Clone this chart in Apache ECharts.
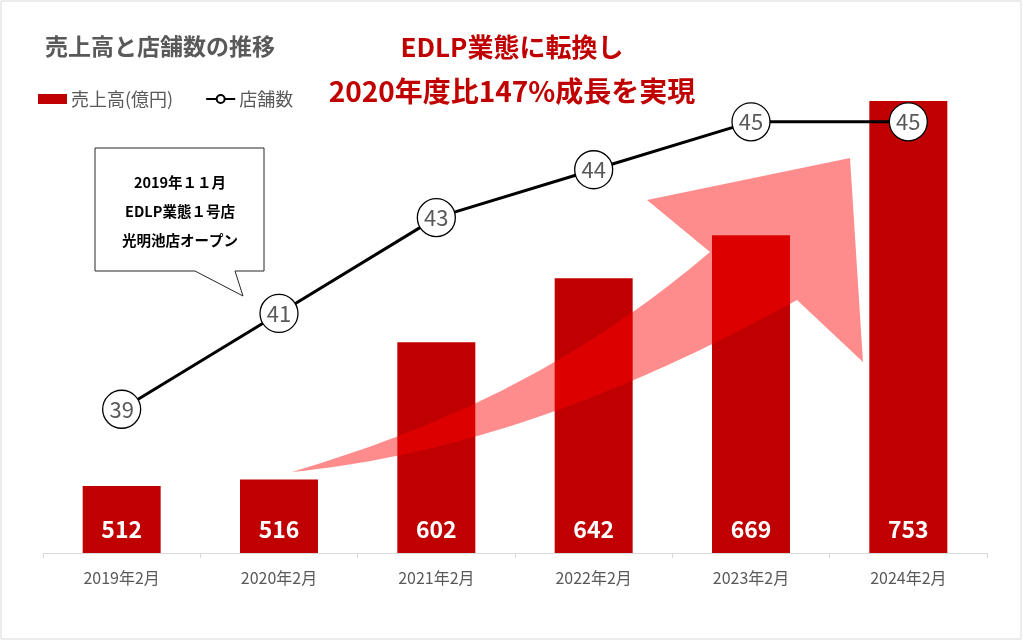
<!DOCTYPE html>
<html><head><meta charset="utf-8">
<script src="https://cdn.jsdelivr.net/npm/echarts@6/dist/echarts.min.js"></script>
<style>html,body{margin:0;padding:0;background:#fff}#c{width:1024px;height:641px}</style>
</head><body><div id="c"></div>
<script>
const categories = ['2019年2月','2020年2月','2021年2月','2022年2月','2023年2月','2024年2月'];
const sales = [512, 516, 602, 642, 669, 753];
const stores = [39, 41, 43, 44, 45, 45];
const seriesNames = ['売上高(億円)', '店舗数'];
const titleText = '売上高と店舗数の推移';
const headline1 = 'EDLP業態に転換し';
const headline2 = '2020年度比147%成長を実現';
const calloutLines = ['2019年１１月', 'EDLP業態１号店', '光明池店オープン'];

const FONT = '"Noto Sans CJK JP", "Noto Sans", sans-serif';

// decorative arrow outline (pixel space)
function cubic(p0, p1, p2, p3, n) {
  const pts = [];
  for (let i = 0; i <= n; i++) {
    const t = i / n, u = 1 - t;
    pts.push([
      u*u*u*p0[0] + 3*u*u*t*p1[0] + 3*u*t*t*p2[0] + t*t*t*p3[0],
      u*u*u*p0[1] + 3*u*u*t*p1[1] + 3*u*t*t*p2[1] + t*t*t*p3[1]
    ]);
  }
  return pts;
}
const upper = cubic([292,472],[432,430],[570,371],[710,252], 40);
const lower = cubic([797,300],[627,393.5],[462,455],[292,472], 40);
const arrowPts = upper.concat([[647,200],[850,158],[863,362]], lower);

const chart = echarts.init(document.getElementById('c'));
chart.setOption({
  animation: false,
  backgroundColor: '#fff',
  textStyle: { fontFamily: FONT },
  grid: { left: 43, right: 37, top: 26, bottom: 88 },
  legend: {
    left: 38, top: 90, padding: 0,
    itemWidth: 29, itemHeight: 10, itemGap: 32,
    textStyle: { fontSize: 18, color: '#595959', fontFamily: FONT, padding: [0, 0, 0, -1] },
    data: [
      { name: seriesNames[0], icon: 'rect' },
      { name: seriesNames[1] }
    ]
  },
  xAxis: {
    type: 'category', data: categories,
    axisLine: { lineStyle: { color: '#d9d9d9', width: 1 } },
    axisTick: { show: true, length: 5, lineStyle: { color: '#d9d9d9' } },
    axisLabel: { fontSize: 16, color: '#595959', margin: 17, fontFamily: FONT }
  },
  yAxis: [
    { type: 'value', min: 470, max: 800, show: false, splitLine: { show: false } },
    { type: 'value', min: 36, max: 47, show: false, splitLine: { show: false } }
  ],
  series: [
    {
      name: seriesNames[0], type: 'bar', data: sales, yAxisIndex: 0,
      barWidth: 78, z: 2,
      itemStyle: { color: '#C00000' },
      label: { show: true, position: 'insideBottom', distance: 12, color: '#fff', fontSize: 23, fontWeight: 'bold', fontFamily: FONT }
    },
    {
      name: seriesNames[1], type: 'line', data: stores, yAxisIndex: 1, z: 10,
      symbol: 'circle', symbolSize: 38,
      lineStyle: { color: '#000', width: 3 },
      itemStyle: { color: '#fff', borderColor: '#000', borderWidth: 1.3 },
      label: { show: true, position: 'inside', fontSize: 22, color: '#595959', fontFamily: FONT }
    }
  ],
  graphic: [
    { type: 'rect', z: 0, silent: true, shape: { x: 1, y: 1, width: 1020, height: 638 },
      style: { fill: 'none', stroke: '#d9d9d9', lineWidth: 1 } },
    { type: 'text', z: 20, x: 45, y: 46,
      style: { text: titleText, fontSize: 23, fontWeight: 'bold', fill: '#595959', fontFamily: FONT, verticalAlign: 'middle' } },
    { type: 'text', z: 20, x: 512, y: 47,
      style: { text: headline1, fontSize: 26, fontWeight: 'bold', fill: '#C00000', fontFamily: FONT, align: 'center', verticalAlign: 'middle' } },
    { type: 'text', z: 20, x: 512, y: 91,
      style: { text: headline2, fontSize: 28, fontWeight: 'bold', fill: '#C00000', fontFamily: FONT, align: 'center', verticalAlign: 'middle' } },
    { type: 'polygon', z: 5, silent: true,
      shape: { points: arrowPts },
      style: { fill: 'rgba(255,0,0,0.45)' } },
    { type: 'polygon', z: 20, silent: true,
      shape: { points: [[95,148],[264,148],[264,271],[235,271],[243,296],[195,271],[95,271]] },
      style: { fill: '#fff', stroke: '#262626', lineWidth: 1 } },
    { type: 'text', z: 21, x: 180, y: 182,
      style: { text: calloutLines[0], fontSize: 14.5, fontWeight: 'bold', fill: '#000', fontFamily: FONT, align: 'center', verticalAlign: 'middle' } },
    { type: 'text', z: 21, x: 180, y: 211,
      style: { text: calloutLines[1], fontSize: 14.5, fontWeight: 'bold', fill: '#000', fontFamily: FONT, align: 'center', verticalAlign: 'middle' } },
    { type: 'text', z: 21, x: 180, y: 240,
      style: { text: calloutLines[2], fontSize: 14.5, fontWeight: 'bold', fill: '#000', fontFamily: FONT, align: 'center', verticalAlign: 'middle' } }
  ]
});
</script></body></html>
